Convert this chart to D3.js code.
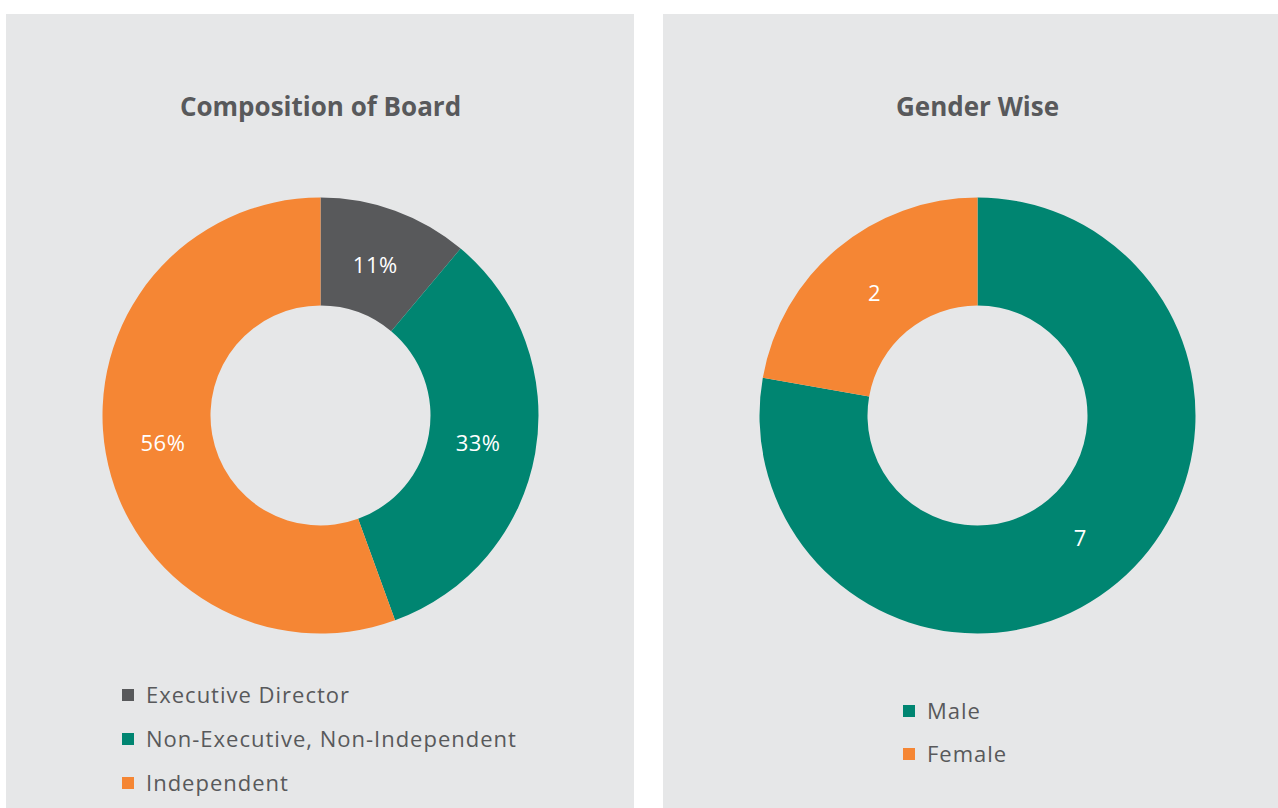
<!DOCTYPE html>
<html>
<head>
<meta charset="utf-8">
<script src="https://cdn.jsdelivr.net/npm/d3@7"></script>
<style>
    html, body { margin: 0; padding: 0; background: #fff; }
    svg { display: block; }
    .title { font-family: "Open Sans", sans-serif; font-weight: 700; font-size: 26px; fill: #58595b; }
    .legend text { font-family: "Open Sans", sans-serif; font-size: 22px; letter-spacing: 1px; fill: #58595b; }
    .slice-label { font-family: "Open Sans", sans-serif; font-size: 22px; letter-spacing: 0.5px; fill: #fff; }
</style>
</head>
<body>
<script>

    // board composition (count of directors)
    var boardCategories = ["Executive Director", "Non-Executive, Non-Independent", "Independent"];
    var boardValues = [1, 3, 5];
    var boardLabels = ["11%", "33%", "56%"];

    // gender split
    var genderCategories = ["Male", "Female"];
    var genderValues = [7, 2];
    var genderLabels = ["7", "2"];

    var width = 1278, height = 808;

    var svg = d3.select("body").append("svg")
        .attr("width", width)
        .attr("height", height);

    var panels = [
        {x: 6, w: 628, title: "Composition of Board", cats: boardCategories, vals: boardValues, labels: boardLabels,
            colors: ["#58595b", "#008571", "#f58634"], legendX: 122, legendY: 695, legendGap: 44},
        {x: 663, w: 615, title: "Gender Wise", cats: genderCategories, vals: genderValues, labels: genderLabels,
            colors: ["#008571", "#f58634"], legendX: 903, legendY: 711, legendGap: 43}
    ];

    var outerR = 218, innerR = 110, cy = 415.5;

    var pie = d3.pie().sort(null).value(function (d) { return d; });
    var arc = d3.arc().innerRadius(innerR).outerRadius(outerR);
    var labelArc = d3.arc().innerRadius(160).outerRadius(160);

    panels.forEach(function (p) {
        var g = svg.append("g");

        g.append("rect")
            .attr("x", p.x).attr("y", 14)
            .attr("width", p.w).attr("height", height - 14)
            .attr("fill", "#e6e7e8");

        var cx = p.x + 314.5;

        g.append("text")
            .attr("class", "title")
            .attr("x", cx).attr("y", 116)
            .attr("text-anchor", "middle")
            .text(p.title);

        var color = d3.scaleOrdinal().domain(p.cats).range(p.colors);
        var arcs = pie(p.vals);

        var donut = g.append("g").attr("transform", "translate(" + cx + "," + cy + ")");

        donut.selectAll("path")
            .data(arcs)
            .enter()
            .append("path")
            .attr("d", arc)
            .attr("fill", function (d, i) { return color(p.cats[i]); });

        donut.selectAll("text")
            .data(arcs)
            .enter()
            .append("text")
            .attr("class", "slice-label")
            .attr("transform", function (d) { return "translate(" + labelArc.centroid(d) + ")"; })
            .attr("text-anchor", "middle")
            .attr("dy", "0.35em")
            .text(function (d, i) { return p.labels[i]; });

        var legend = g.append("g").attr("class", "legend");
        var row = legend.selectAll("g")
            .data(p.cats)
            .enter()
            .append("g")
            .attr("transform", function (d, i) {
                return "translate(" + p.legendX + "," + (p.legendY + i * p.legendGap) + ")";
            });

        row.append("rect")
            .attr("x", 0).attr("y", -6)
            .attr("width", 12).attr("height", 12)
            .attr("fill", function (d) { return color(d); });

        row.append("text")
            .attr("x", 24)
            .attr("dy", "0.35em")
            .text(function (d) { return d; });
    });

</script>
</body>
</html>
